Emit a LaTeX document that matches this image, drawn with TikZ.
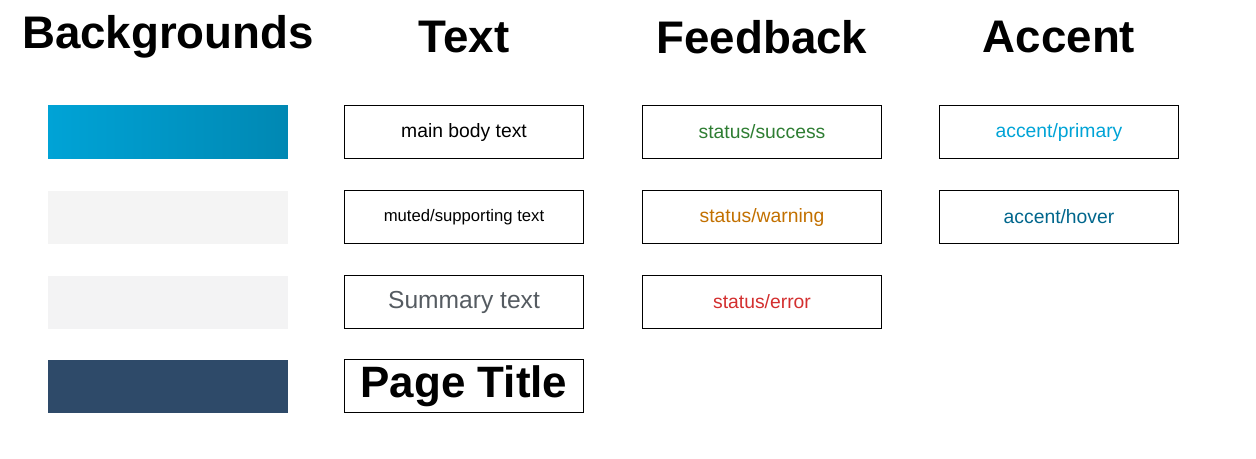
\documentclass[tikz,border=0pt]{standalone}
\usepackage{fontspec}
\setmainfont{Liberation Sans}
\usetikzlibrary{positioning}
\definecolor{bgdark}{HTML}{2E4A69}
\definecolor{bglight}{HTML}{F4F4F4}
\definecolor{bgsoft}{HTML}{F3F3F4}
\definecolor{accprimary}{HTML}{00A3D6}
\definecolor{accdeep}{HTML}{0088B3}
\definecolor{acchover}{HTML}{00668C}
\definecolor{okgreen}{HTML}{2E7D32}
\definecolor{warnorange}{HTML}{C27000}
\definecolor{errred}{HTML}{D32F2F}
\definecolor{mutedgray}{HTML}{555B61}
\begin{document}
\begin{tikzpicture}[x=0.02cm,y=-0.02cm,
title/.style={font=\bfseries\fontsize{26}{30}\selectfont},
swatch/.style={rectangle, minimum width=4.8cm, minimum height=1.06cm, inner sep=0pt},
token/.style={rectangle, draw=black, thin, minimum width=4.78cm, minimum height=1.06cm, inner sep=0pt, font=\fontsize{11}{13}\selectfont},
]
\useasboundingbox (0,0) rectangle (1256,458);
%Titles
\node[title] (tbg)   at (168,37)  {Backgrounds};
\node[title] (ttext) at (464,37)  {Text};
\node[title] (tfb)   at (762,37)  {Feedback};
\node[title] (tacc)  at (1059,37) {Accent};
%Backgrounds
\node[swatch, left color=accprimary, right color=accdeep] (bgmain) at (168,132) {};
\node[swatch, fill=bglight] (bgmuted) at (168,217) {};
\node[swatch, fill=bgsoft]  (bgsum)   at (168,302) {};
\node[swatch, fill=bgdark]  (bgtitle) at (168,386) {};
%Text
\node[token] (body)    at (464,132) {main body text};
\node[token, font=\fontsize{9.5}{11}\selectfont] (muted) at (464,217) {muted/supporting text};
\node[token, text=mutedgray, font=\fontsize{14}{16}\selectfont] (summary) at (464,302) {Summary text};
\node[token, font=\bfseries\fontsize{25}{28}\selectfont] (ptitle) at (464,386) {Page Title};
%Feedback
\node[token, text=okgreen]    (success) at (762,132) {status/success};
\node[token, text=warnorange] (warning) at (762,217) {status/warning};
\node[token, text=errred]     (error)   at (762,302) {status/error};
%Accent
\node[token, text=accprimary] (primary) at (1059,132) {accent/primary};
\node[token, text=acchover]   (hover)   at (1059,217) {accent/hover};
\end{tikzpicture}
\end{document}
